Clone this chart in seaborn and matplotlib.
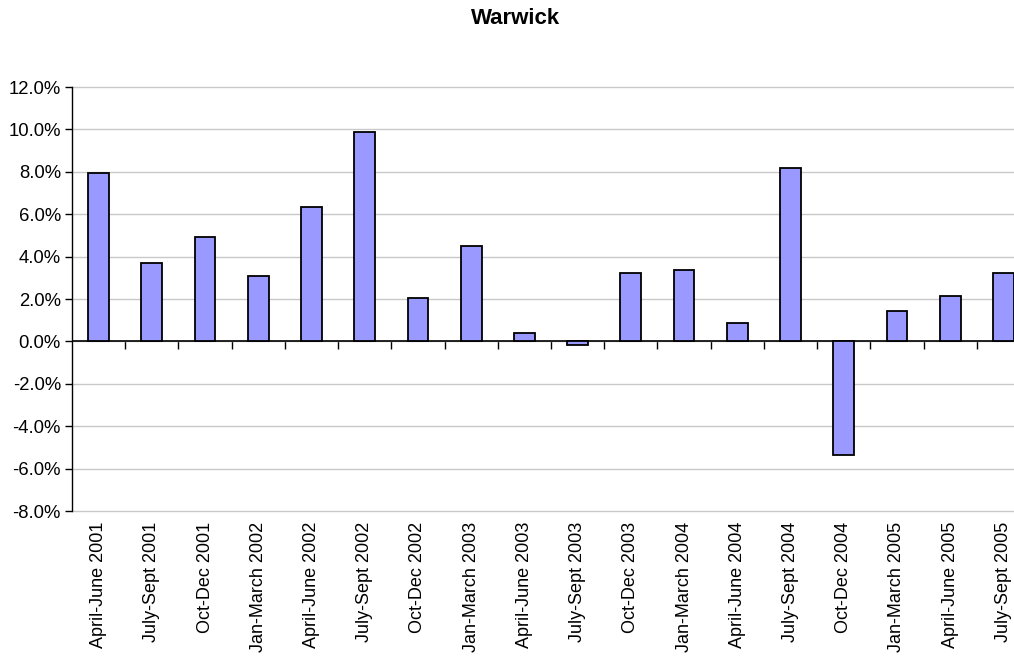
import matplotlib
matplotlib.use("Agg")
import matplotlib.pyplot as plt
import seaborn as sns
import pandas as pd
from matplotlib.ticker import FuncFormatter, FixedLocator

quarters = [
    "April-June 2001", "July-Sept 2001", "Oct-Dec 2001", "Jan-March 2002",
    "April-June 2002", "July-Sept 2002", "Oct-Dec 2002", "Jan-March 2003",
    "April-June 2003", "July-Sept 2003", "Oct-Dec 2003", "Jan-March 2004",
    "April-June 2004", "July-Sept 2004", "Oct-Dec 2004", "Jan-March 2005",
    "April-June 2005", "July-Sept 2005",
]
change = [
    0.0792, 0.0372, 0.0491, 0.0308, 0.0635, 0.0990, 0.0203, 0.0452,
    0.0038, -0.0016, 0.0325, 0.0339, 0.0086, 0.0817, -0.0534, 0.0142,
    0.0213, 0.0325,
]
y_ticks = [-0.08, -0.06, -0.04, -0.02, 0.0, 0.02, 0.04, 0.06, 0.08, 0.10, 0.12]

sns.set_style("white")
plt.rcParams["font.family"] = ["Liberation Sans", "DejaVu Sans"]
plt.rcParams["text.color"] = "black"
plt.rcParams["xtick.color"] = "black"
plt.rcParams["ytick.color"] = "black"

df = pd.DataFrame({"quarter": quarters, "change": change})

fig = plt.figure(figsize=(10.14, 6.57), dpi=100)
ax = fig.add_axes([72 / 1014, 1 - 511 / 657, 958 / 1014, (511 - 87) / 657])

sns.barplot(data=df, x="quarter", y="change", color="#9999FF", saturation=1,
            width=0.39, edgecolor="black", linewidth=1.3, ax=ax, zorder=3)

ax.set_ylim(-0.08, 0.12)
ax.set_xlim(-0.5, len(quarters) - 0.5)
ax.yaxis.set_major_locator(FixedLocator(y_ticks))
ax.yaxis.set_major_formatter(FuncFormatter(lambda v, _: f"{v * 100:.1f}%"))
ax.grid(axis="y", color="#C8C8C8", linewidth=1.0, zorder=0, clip_on=False)
ax.set_axisbelow(True)

for side in ("top", "right", "bottom"):
    ax.spines[side].set_visible(False)
ax.spines["left"].set_color("black")
ax.spines["left"].set_linewidth(1.0)

ax.tick_params(axis="y", direction="out", length=5, width=1, color="black",
               labelsize=13.3, labelcolor="black", pad=3, left=True)
ax.tick_params(axis="x", length=0, labelsize=13.0, labelcolor="black", pad=8)
plt.setp(ax.get_xticklabels(), rotation=90, ha="center", va="top")
ax.set_xlabel("")
ax.set_ylabel("")

# category axis line through zero, with ticks between quarters
ax.axhline(0, color="black", linewidth=1.2, zorder=2.5)
zero_frac = (0 - (-0.08)) / 0.20
sec = ax.secondary_xaxis(zero_frac)
sec.set_xticks([i + 0.5 for i in range(len(quarters) - 1)])
sec.set_xticklabels([])
sec.tick_params(direction="out", length=6, width=1, color="black")
sec.spines["bottom"].set_visible(False)

fig.text(516 / 1014, 1 - 19 / 657, "Warwick", ha="center", va="center",
         fontsize=16, fontweight="bold", color="black")

fig.savefig("out.png", dpi=100, facecolor="white")
